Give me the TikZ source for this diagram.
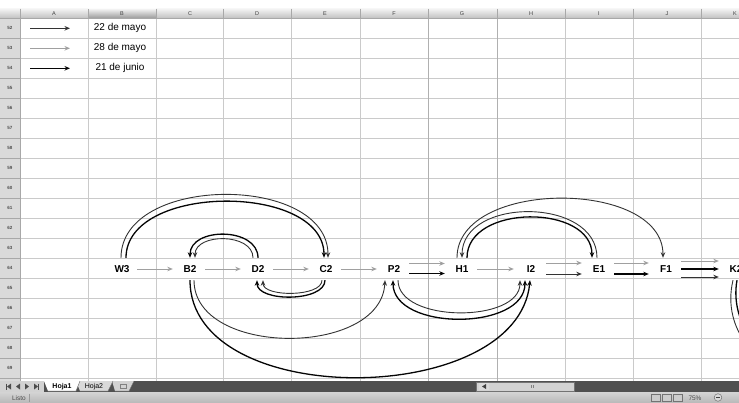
\documentclass[tikz,border=0pt]{standalone}
\usepackage{fontspec}
\setmainfont{Liberation Sans}
\usetikzlibrary{arrows.meta}
\definecolor{gridc}{HTML}{CACACA}
\definecolor{gridd}{HTML}{A8A8A8}
\definecolor{gridm}{HTML}{B0B0B0}
\definecolor{cA}{HTML}{333333}
\definecolor{cB}{HTML}{A0A0A0}
\definecolor{cC}{HTML}{050505}
\definecolor{hdrtop}{HTML}{F2F2F2}
\definecolor{hdrbot}{HTML}{C2C2C2}
\definecolor{selbot}{HTML}{9C9C9C}
\definecolor{rowhdr}{HTML}{DADADA}
\definecolor{tabdark}{HTML}{505050}
\definecolor{tablight}{HTML}{D2D2D2}
\definecolor{statbar}{HTML}{B8B8B8}
\begin{document}
\begin{tikzpicture}[x=1pt,y=-1pt,
 cell/.style={font=\bfseries\fontsize{10}{12}\selectfont, inner sep=0pt, minimum width=30pt, minimum height=22pt},
 legtext/.style={font=\fontsize{10}{12}\selectfont, inner sep=0pt},
 arrowtip/.style={-{Stealth[length=5.5pt,width=4.5pt]}},
 d22/.style={draw=cA, line width=0.9pt, arrowtip},
 d28/.style={draw=cB, line width=0.9pt, arrowtip},
 d21/.style={draw=cC, line width=1.3pt, arrowtip},
 straight/.style={shorten >=2pt},
 hdrtxt/.style={font=\fontsize{5.5}{6}\selectfont, text=black!75, inner sep=0pt},
 rowtxt/.style={font=\bfseries\fontsize{4.5}{5}\selectfont, text=black!70, inner sep=0pt},
 smalltxt/.style={font=\fontsize{6.5}{7}\selectfont, inner sep=0pt},
]
\useasboundingbox (0,0) rectangle (739,403);
\clip (0,0) rectangle (739,403);
\fill[white] (0,0) rectangle (739,403);

% ---------- grid ----------
\foreach \k in {0,...,18} \draw[gridc, line width=0.6pt] (0,{18+20*\k}) -- (739,{18+20*\k});
\foreach \xx in {20,88,156,223,291,360,565,633,701} \draw[gridc, line width=0.6pt] (\xx,9) -- (\xx,381);
\foreach \xx in {428,497} \draw[gridm, line width=0.6pt] (\xx,9) -- (\xx,381);

% ---------- column header ----------
\shade[top color=hdrtop, bottom color=hdrbot] (0,9) rectangle (739,18);
\shade[top color=hdrtop, bottom color=selbot] (88,9) rectangle (156,18);
\foreach \xx in {20,88,156,223,291,360,428,497,565,633,701} \draw[gridd, line width=0.5pt] (\xx,9) -- (\xx,18);
\draw[gridd, line width=0.5pt] (0,18) -- (739,18);
\foreach \c/\xx in {A/54,B/122,C/190,D/257,E/325,F/394,G/462,H/531,I/599,J/667,K/735}
  \node[hdrtxt] (col\c) at (\xx,13.5) {\c};

% ---------- row header ----------
\fill[rowhdr] (0,18) rectangle (20,381);
\foreach \k in {0,...,18} \draw[gridd, line width=0.5pt] (0,{18+20*\k}) -- (20,{18+20*\k});
\draw[gridd, line width=0.5pt] (20,9) -- (20,381);
\foreach \k in {0,...,17} {
  \pgfmathtruncatemacro{\rn}{52+\k}
  \node[rowtxt] (row\rn) at (10,{18+20*(\k+0.5)}) {\rn};
}

% ---------- legend ----------
\coordinate (la) at (30,28.3);  \coordinate (lb) at (70,28.3);
\coordinate (lc) at (30,48.3);  \coordinate (ld) at (70,48.3);
\coordinate (le) at (30,68.3);  \coordinate (lf) at (70,68.3);
\draw[d22] (la) -- (lb);
\draw[d28] (lc) -- (ld);
\draw[d21] (le) -- (lf);
\node[legtext] (t22) at (120,28.3) {22 de mayo};
\node[legtext] (t28) at (120,48.3) {28 de mayo};
\node[legtext] (t21) at (120,68.3) {21 de junio};

% ---------- nodes ----------
\node[cell] (W3) at (122,269) {W3};
\node[cell] (B2) at (190,269) {B2};
\node[cell] (D2) at (258,269) {D2};
\node[cell] (C2) at (326,269) {C2};
\node[cell] (P2) at (394,269) {P2};
\node[cell] (H1) at (462,269) {H1};
\node[cell] (I2) at (531,269) {I2};
\node[cell] (E1) at (599,269) {E1};
\node[cell] (F1) at (666,269) {F1};
\node[cell] (K2) at (736,269) {K2};

% ---------- straight connectors ----------
\draw[d28, straight] (W3.east) -- (B2.west);
\draw[d28, straight] (B2.east) -- (D2.west);
\draw[d28, straight] (D2.east) -- (C2.west);
\draw[d28, straight] (C2.east) -- (P2.west);
\draw[d28, straight] ([yshift=5.5pt]P2.east) -- ([yshift=5.5pt]H1.west);
\draw[d21, straight] ([yshift=-4.5pt]P2.east) -- ([yshift=-4.5pt]H1.west);
\draw[d28, straight] (H1.east) -- (I2.west);
\draw[d28, straight] ([yshift=6pt]I2.east) -- ([yshift=6pt]E1.west);
\draw[d22, straight] ([yshift=-5pt]I2.east) -- ([yshift=-5pt]E1.west);
\draw[d28, straight] ([yshift=6pt]E1.east) -- ([yshift=6pt]F1.west);
\draw[d21, straight] ([yshift=-5pt]E1.east) -- ([yshift=-5pt]F1.west);
\draw[d28, straight] ([yshift=8pt]F1.east) -- ([yshift=8pt]K2.west);
\draw[d21, straight] (F1.east) -- (K2.west);
\draw[d22, straight] ([yshift=-8pt]F1.east) -- ([yshift=-8pt]K2.west);

% ---------- curved connectors above ----------
\draw[d22] ([xshift=-1pt]W3.north) .. controls +(0,-84) and +(0,-84) .. ([xshift=2pt]C2.north);
\draw[d21] ([xshift=4pt]W3.north) .. controls +(0,-75) and +(0,-75) .. ([xshift=-2pt]C2.north);
\draw[d21] (D2.north) .. controls +(0,-31) and +(0,-31) .. (B2.north);
\draw[d22] ([xshift=-5pt]D2.north) .. controls +(0,-25) and +(0,-25) .. ([xshift=5pt]B2.north);
\draw[d22] ([xshift=-5pt]H1.north) .. controls +(0,-79) and +(0,-79) .. ([xshift=-3pt]F1.north);
\draw[d22] ([xshift=-2pt]E1.north) .. controls +(0,-61) and +(0,-61) .. (H1.north);
\draw[d21] ([xshift=5pt]H1.north) .. controls +(0,-54) and +(0,-54) .. ([xshift=-7pt]E1.north);

% ---------- curved connectors below ----------
\draw[d21] ([xshift=-1pt]C2.south) .. controls +(0,22) and +(0,22) .. ([xshift=-1pt]D2.south);
\draw[d22] ([xshift=-4pt]C2.south) .. controls +(0,17) and +(0,17) .. ([xshift=5pt]D2.south);
\draw[d22] ([xshift=4pt]B2.south) .. controls +(0,77) and +(-4,77) .. ([xshift=-9pt]P2.south);
\draw[d21] (B2.south) .. controls +(0,131) and +(-12,128) .. ([xshift=-1pt]I2.south);
\draw[d21, {Stealth[length=5.5pt,width=4.5pt]}-{Stealth[length=5.5pt,width=4.5pt]}] ([xshift=-6pt]I2.south) .. controls +(0,51) and +(0,51) .. ([xshift=-1pt]P2.south);
\draw[d22] ([xshift=4pt]P2.south) .. controls +(0,43) and +(0,43) .. ([xshift=-11pt]I2.south);
\coordinate (kx1) at (800,372);
\coordinate (kx2) at (800,366);
\draw[cA, line width=0.9pt] ([xshift=-3pt]K2.south) .. controls +(-12,50) and +(-40,0) .. (kx1);
\draw[cC, line width=1.3pt] ([xshift=1pt]K2.south) .. controls +(-8,44) and +(-36,0) .. (kx2);

% ---------- sheet tab bar ----------
\fill[tabdark] (0,381) rectangle (739,392);
\fill[tablight] (0,381) rectangle (44,392);
\foreach \xx in {9,18} \fill[black!70] (\xx-2,386.5) -- (\xx+2,383.5) -- (\xx+2,389.5) -- cycle;
\foreach \xx in {27,36} \fill[black!70] (\xx+2,386.5) -- (\xx-2,383.5) -- (\xx-2,389.5) -- cycle;
\draw[black!70, line width=0.6pt] (6.5,383.5) -- (6.5,389.5);
\draw[black!70, line width=0.6pt] (38.5,383.5) -- (38.5,389.5);
\fill[tablight] (112,381) -- (134,381) -- (129,391) -- (115,391) -- cycle;
\fill[tablight!85] (76,381) -- (113,381) -- (108,391) -- (80,391) -- cycle;
\fill[white] (44,381) -- (80,381) -- (76,391) -- (48,391) -- cycle;
\draw[black!60, line width=0.4pt] (80,381) -- (76,391) -- (48,391);
\draw[black!60, line width=0.4pt] (113,381) -- (108,391) -- (80,391);
\draw[black!60, line width=0.4pt] (134,381) -- (129,391) -- (115,391);
\node[smalltxt, font=\bfseries\fontsize{7}{8}\selectfont] (tab1) at (62,386.3) {Hoja1};
\node[smalltxt, font=\fontsize{7}{8}\selectfont] (tab2) at (94,386.3) {Hoja2};
\draw[black!50, line width=0.5pt] (120,384.5) rectangle (126,388.5);
% horizontal scroll bar
\fill[tablight] (476,382) rectangle (574,391);
\draw[black!55, line width=0.4pt] (476,382) rectangle (574,391);
\fill[white!85!black] (479,383) rectangle (489,390);
\fill[black!75] (482,386.5) -- (486,384) -- (486,389) -- cycle;
\draw[black!50, line width=0.4pt] (531,385) -- (531,388);
\draw[black!50, line width=0.4pt] (533,385) -- (533,388);

% ---------- status bar ----------
\shade[top color=statbar!60, bottom color=statbar] (0,392) rectangle (739,403);
\node[smalltxt, text=black!70] (listo) at (19,397.8) {Listo};
\draw[black!40, line width=0.4pt] (29,393.5) -- (29,401.5);
\draw[black!55, line width=0.5pt, fill=white!80!black] (651,394) rectangle (660,401);
\draw[black!55, line width=0.5pt, fill=white!80!black] (662,394) rectangle (671,401);
\draw[black!55, line width=0.5pt, fill=white!80!black] (673,394) rectangle (682,401);
\node[smalltxt, text=black!70] (zoomtxt) at (695,397.8) {75\%};
\draw[black!55, line width=0.5pt, fill=white!85!black] (718,397.5) circle (3.8);
\draw[black!75, line width=0.7pt] (716,397.5) -- (720,397.5);
\end{tikzpicture}
\end{document}
